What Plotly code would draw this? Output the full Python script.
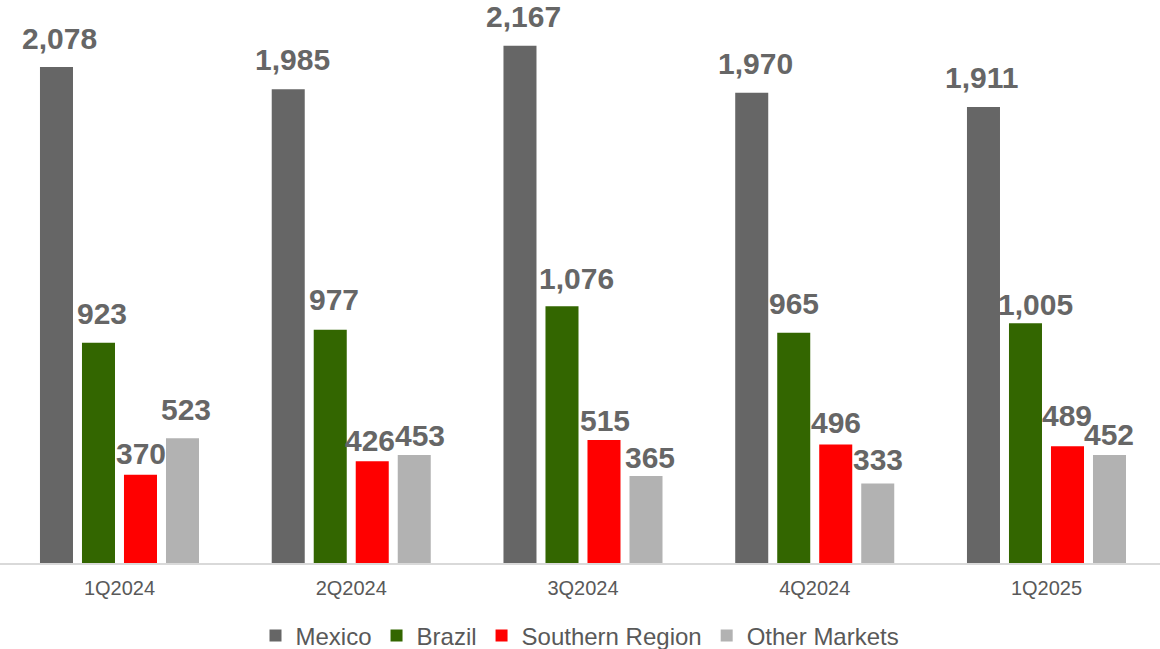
import plotly.graph_objects as go

quarters = ["1Q2024", "2Q2024", "3Q2024", "4Q2024", "1Q2025"]
mexico = [2078, 1985, 2167, 1970, 1911]
brazil = [923, 977, 1076, 965, 1005]
southern = [370, 426, 515, 496, 489]
other = [523, 453, 365, 333, 452]

series_names = ["Mexico", "Brazil", "Southern Region", "Other Markets"]
series_values = [mexico, brazil, southern, other]
series_colors = ["#666666", "#336600", "#FF0000", "#B2B2B2"]

# label placement nudges (pixels): horizontal shift and gap above bar top
label_dx = [[3.5, 4.5, 3.5, 4, -2], [4, 4, 15, 0, 10.5], [1, -2, 1.5, 0, 0], [3.5, 6, 4, 0, 0]]
label_gap = [[17, 18, 18, 18, 18], [18, 19, 16, 18, 7], [10, 9, 8, 11, 19], [17, 8, 7, 13, 9]]

fig = go.Figure()
for name, vals, col in zip(series_names, series_values, series_colors):
    fig.add_trace(go.Bar(
        name=name, x=quarters, y=vals, marker=dict(color=col, line=dict(width=0)),
        hoverinfo="x+y+name",
    ))

slot = 42
for i, vals in enumerate(series_values):
    for j, (q, v) in enumerate(zip(quarters, vals)):
        fig.add_annotation(
            x=q, y=v, text=f"{v:,}", showarrow=False, xanchor="center", yanchor="bottom",
            xshift=(i - 1.5) * slot + label_dx[i][j], yshift=label_gap[i][j] - 7,
            font=dict(family="Liberation Sans, Arial", size=30, color="#666666", weight="bold"),
        )

fig.update_layout(
    width=1160, height=649,
    barmode="group", bargap=0.275, bargroupgap=0.214,
    plot_bgcolor="white", paper_bgcolor="white",
    margin=dict(l=0, r=0, t=20, b=86, autoexpand=False),
    font=dict(family="Liberation Sans, Arial", color="#595959"),
    xaxis=dict(
        range=[-0.5156, 4.4898], showline=True, linecolor="#D9D9D9", linewidth=2,
        ticks="", tickfont=dict(size=20, color="#595959"), showgrid=False,
        ticklabelstandoff=6,
    ),
    yaxis=dict(range=[0, 2275], visible=False, showgrid=False),
    showlegend=True,
    legend=dict(orientation="h", x=0.5, xanchor="center", y=-0.1344, yanchor="middle",
                font=dict(size=24, color="#595959"), itemwidth=30),
)

fig.write_html(
    "out.html",
    config={"displayModeBar": False},
    post_script="document.body.style.margin='0';document.body.style.overflow='hidden';",
)
